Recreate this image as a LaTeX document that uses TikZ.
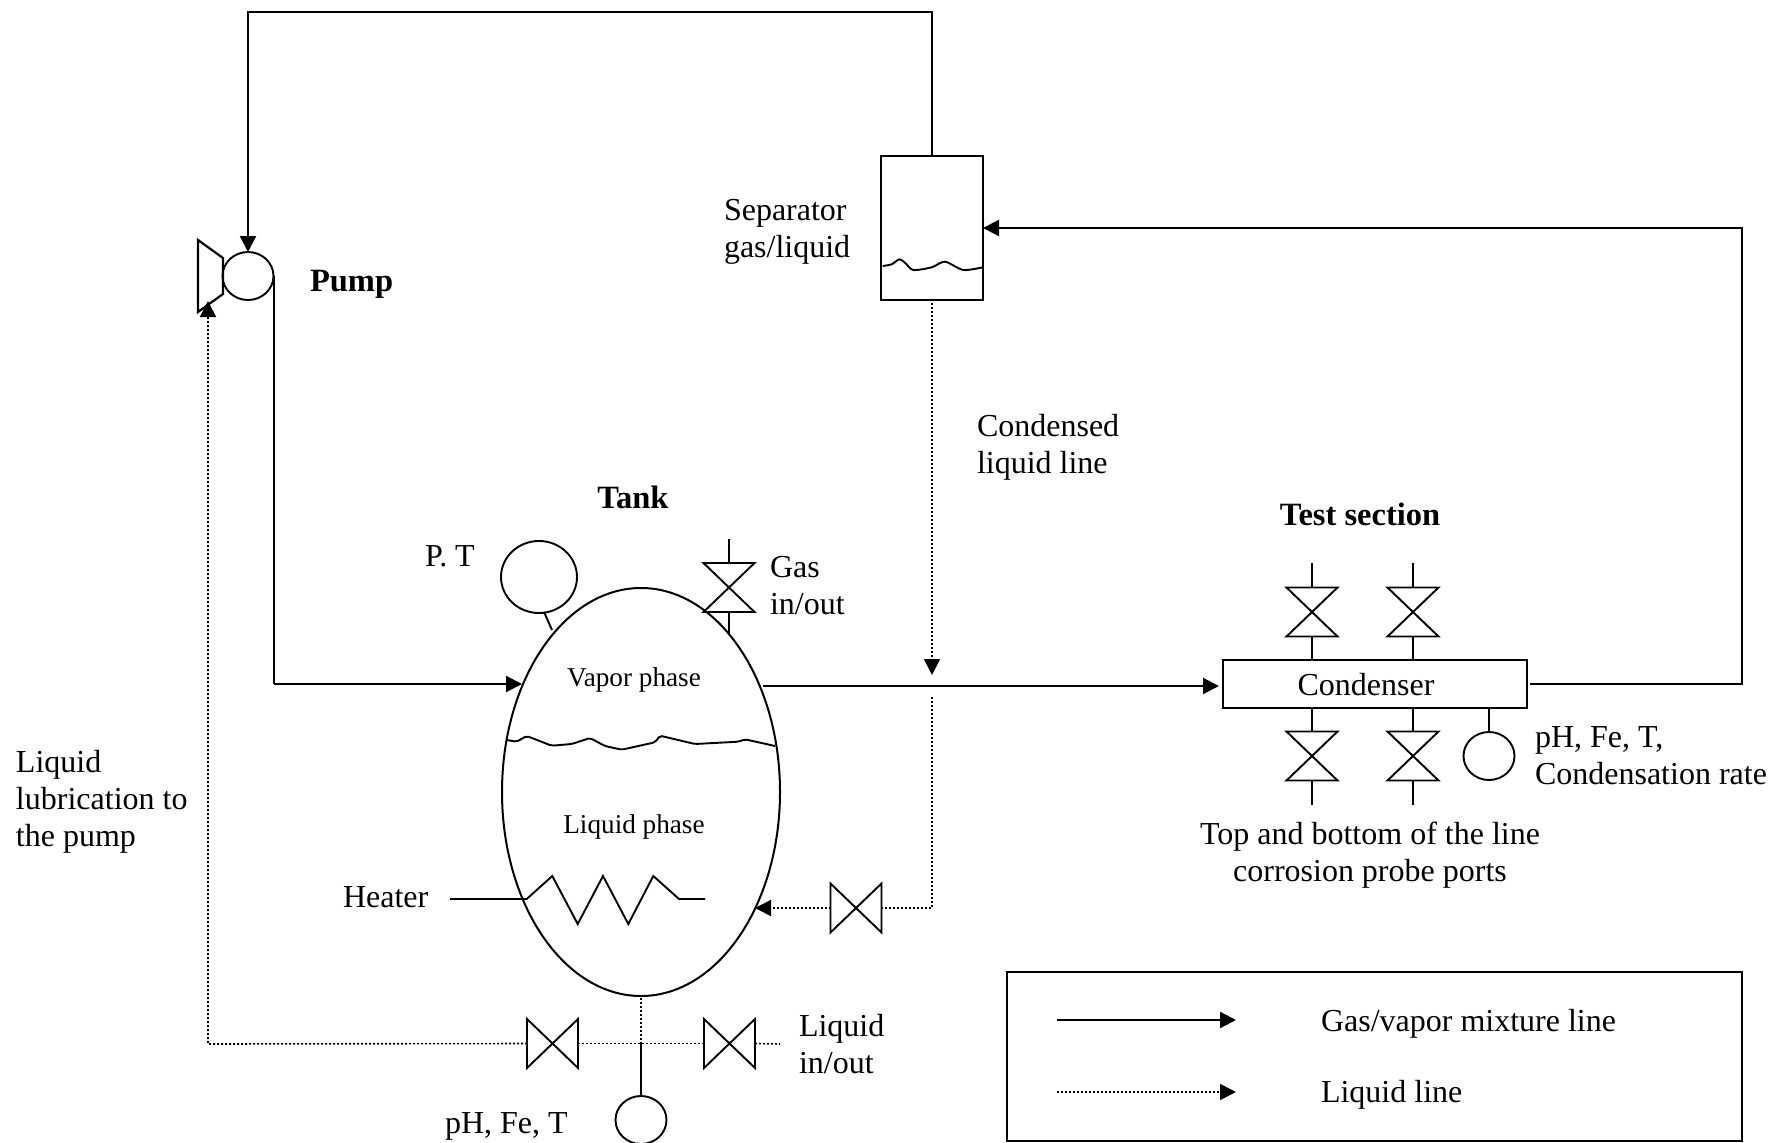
\documentclass[tikz,border=0pt]{standalone}
\usepackage{fontspec}
\setmainfont{Liberation Serif}
\usetikzlibrary{arrows.meta,shapes.geometric}
\tikzset{
  x=1pt,y=-1pt,
  every node/.style={inner sep=0pt,outer sep=0pt},
  lbl/.style={font=\fontsize{32}{37}\selectfont,align=left,anchor=west},
  lblc/.style={font=\fontsize{32}{37}\selectfont,align=center},
  lblb/.style={font=\fontsize{32.5}{37}\selectfont\bfseries,align=center},
  lbls/.style={font=\fontsize{27.2}{30}\selectfont,align=center},
  pipe/.style={line width=2.2pt,line join=miter},
  thinpipe/.style={line width=1.9pt},
  flow/.style={pipe,-{Triangle[length=16pt,width=16pt]}},
  liq/.style={line width=1.6pt,dash pattern=on 2pt off 2pt},
  liqflow/.style={liq,-{Triangle[length=16pt,width=16pt,sep=0pt]}},
  gauge/.style={ellipse,draw,line width=1.9pt,minimum width=51pt,minimum height=48pt},
  valvebox/.style={rectangle,minimum width=51pt,minimum height=49pt},
}
\newcommand{\valveH}[3]{\node[valvebox] (#1) at (#2,#3) {};
  \draw[thinpipe,line join=miter] (#1.north west)--(#1.south east)--(#1.north east)--(#1.south west)--cycle;}
\newcommand{\valveV}[3]{\node[valvebox] (#1) at (#2,#3) {};
  \draw[thinpipe,line join=miter] (#1.north west)--(#1.north east)--(#1.south west)--(#1.south east)--cycle;}
\begin{document}
\begin{tikzpicture}
\useasboundingbox (0,0) rectangle (1773,1143);
% vessels
\node[ellipse,draw,line width=2pt,minimum width=278pt,minimum height=408pt] (tank) at (641,792) {};
\node[rectangle,draw,line width=2.2pt,minimum width=102pt,minimum height=144pt] (sep) at (932,228) {};
\node[rectangle,draw,line width=2.2pt,minimum width=304pt,minimum height=48pt] (cond) at (1375,684) {};
\node[lblc] (condtxt) at (1366,685) {Condenser};
% pump
\node[gauge] (pump) at (248,276) {};
\coordinate (pa) at (198,240);
\coordinate (pb) at (223,258);
\coordinate (pc) at (223,294);
\coordinate (pd) at (198,312);
\draw[pipe] (pa)--(pb)--(pc)--(pd)--cycle;
% gauges
\node[ellipse,draw,line width=1.9pt,minimum width=76pt,minimum height=72pt] (ptg) at (539,577) {};
\node[gauge] (cg) at (1489,756) {};
\node[gauge] (bg) at (641,1120) {};
% valves
\valveV{vgas}{729}{587.5}
\valveV{vt1}{1312}{612}
\valveV{vt2}{1413}{612}
\valveV{vb1}{1312}{756}
\valveV{vb2}{1413}{756}
\valveH{vret}{856}{908}
\valveH{vl}{552.5}{1043.5}
\valveH{vr}{729.5}{1043.5}
% free ends
\coordinate (topL) at (248,12);
\coordinate (topR) at (932,12);
\coordinate (pumpBend) at (274,684);
\coordinate (tankIn) at (522,684);
\coordinate (tankOut) at (763,686);
\coordinate (condIn) at (1219,686);
\coordinate (condOut) at (1530,684);
\coordinate (rightB) at (1742,684);
\coordinate (rightT) at (1742,228);
\coordinate (sepIn) at (983,228);
\coordinate (mixTip) at (932,675);
\coordinate (sepBot) at (932,303);
\coordinate (mixBelow) at (932,697);
\coordinate (retCorner) at (932,908);
\coordinate (tankRet) at (755,908);
\coordinate (junc) at (641,1044);
\coordinate (tankBot) at (641,998);
\coordinate (rightEnd) at (780,1044);
\coordinate (lubeCorner) at (208,1044);
\coordinate (pumpLube) at (208,301);
\coordinate (tankPT) at (552,630);
\coordinate (ptStart) at (544,612);
\coordinate (gasTop) at (729,539);
\coordinate (gasBot) at (729,635);
% gas lines
\draw[flow] (sep.north) -- (topR) -- (topL) -- (pump.north);
\draw[pipe] (pump.east -| pumpBend) -- (pumpBend);
\draw[flow] (pumpBend) -- (tankIn);
\draw[flow] (tankOut) -- (condIn);
\draw[flow] (condOut) -- (rightB) -- (rightT) -- (sepIn);
% liquid lines
\draw[liqflow] (sepBot) -- (mixTip);
\draw[liq] (mixBelow) -- (retCorner) -- (vret.east);
\draw[liqflow] (vret.west) -- (tankRet);
\draw[liq] (tankBot) -- (junc);
\draw[liq] (vr.west) -- (vl.east);
\draw[liq] (vr.east) -- (rightEnd);
\draw[liqflow] (vl.west) -- (lubeCorner) -- (pumpLube);
% instrument stubs
\draw[thinpipe] (ptStart) -- (tankPT);
\draw[thinpipe] (gasTop) -- (vgas.north);
\draw[thinpipe] (vgas.south) -- (gasBot);
\draw[thinpipe] (junc) -- (bg.north);
\draw[thinpipe] (cond.south -| cg) -- (cg.north);
\coordinate (t1top) at (1312,563);
\coordinate (t2top) at (1413,563);
\coordinate (b1bot) at (1312,805);
\coordinate (b2bot) at (1413,805);
\draw[thinpipe] (t1top) -- (vt1.north);
\draw[thinpipe] (vt1.south) -- (cond.north -| vt1);
\draw[thinpipe] (t2top) -- (vt2.north);
\draw[thinpipe] (vt2.south) -- (cond.north -| vt2);
\draw[thinpipe] (cond.south -| vb1) -- (vb1.north);
\draw[thinpipe] (vb1.south) -- (b1bot);
\draw[thinpipe] (cond.south -| vb2) -- (vb2.north);
\draw[thinpipe] (vb2.south) -- (b2bot);
% levels and heater
\draw[thinpipe,rounded corners=2pt] (506.7,740) -- (516.7,741.7) -- (526.7,736) -- (551.7,745.7) -- (571.7,744) -- (590,738) -- (605,746) -- (621.7,749.7) -- (655,742.3) -- (660,735.7) -- (695,744) -- (738.3,741.7) -- (745,739.3) -- (775,746);
\draw[thinpipe] plot[smooth,tension=0.45] coordinates {(882.7,266) (891.7,264.3) (899.3,259.3) (905,262.7) (913.3,270) (931.7,267.3) (945,261.7) (963.3,270) (982.7,267.3)};
\coordinate (hs) at (450,899);
\coordinate (h1) at (526.7,899);
\coordinate (h2) at (552.3,876);
\coordinate (h3) at (577.7,924);
\coordinate (h4) at (603,876);
\coordinate (h5) at (628.3,924);
\coordinate (h6) at (653.3,876);
\coordinate (h7) at (679,899);
\coordinate (h8) at (705,899);
\draw[thinpipe,line join=miter] (hs)--(h1)--(h2)--(h3)--(h4)--(h5)--(h6)--(h7)--(h8);
% legend
\node[rectangle,draw,line width=2pt,minimum width=735pt,minimum height=169pt] (legend) at (1374.5,1056.5) {};
\coordinate (la) at (1057,1020);
\coordinate (lb) at (1236,1020);
\coordinate (lc) at (1057,1092);
\coordinate (ld) at (1236,1092);
\draw[flow] (la) -- (lb);
\draw[liqflow] (lc) -- (ld);
\node[lbl] (t1) at (1321,1024) {Gas/vapor mixture line};
\node[lbl] (t2) at (1321,1095) {Liquid line};
% labels
\node[lbl] (t3) at (724,232) {Separator\\gas/liquid};
\node[lbl] (t4) at (977,447) {Condensed\\liquid line};
\node[lblb] (t5) at (633,497) {Tank};
\node[lblb] (t6) at (1360,514) {Test section};
\node[lblb,anchor=west] (t7) at (310,284) {Pump};
\node[lbl] (t8) at (425,556) {P. T};
\node[lbl] (t9) at (770,586) {Gas\\in/out};
\node[lbl] (t10) at (1535,756) {pH, Fe, T,\\Condensation rate};
\node[lblc] (t11) at (1370,855) {Top and bottom of the line\\corrosion probe ports};
\node[lbl] (t12) at (16,802) {Liquid\\lubrication to\\the pump};
\node[lbl] (t13) at (343,897) {Heater};
\node[lbl] (t14) at (799,1044) {Liquid\\in/out};
\node[lbl] (t15) at (445,1126) {pH, Fe, T};
\node[lbls] (t16) at (634,680) {Vapor phase};
\node[lbls] (t17) at (634,827) {Liquid phase};
\end{tikzpicture}
\end{document}
